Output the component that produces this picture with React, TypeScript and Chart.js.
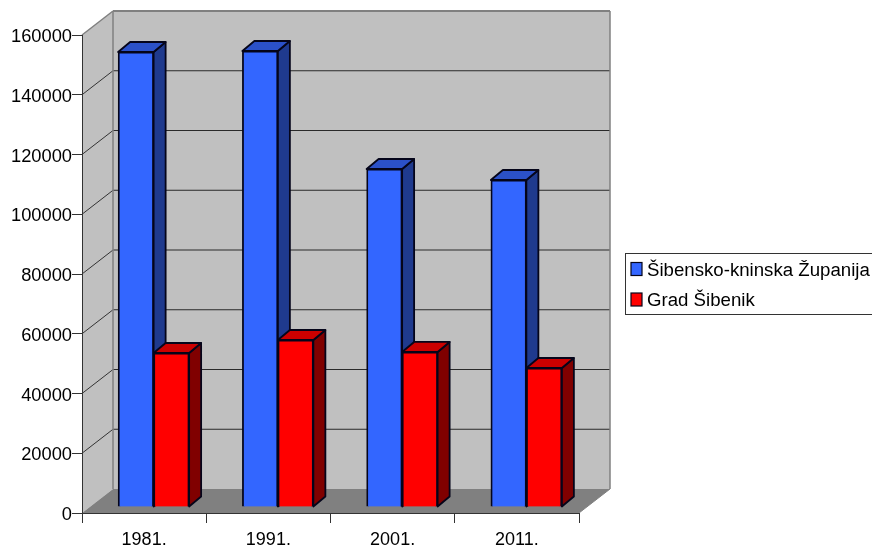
import React, { useEffect, useRef } from "react";
import { Chart, registerables } from "chart.js";

Chart.register(...registerables);

const categories = ["1981.", "1991.", "2001.", "2011."];
const countyLabel = "Šibensko-kninska Županija";
const cityLabel = "Grad Šibenik";
const countyValues = [152300, 152640, 113140, 109460];
const cityValues = [51550, 55900, 51900, 46530];
const yTicks = { min: 0, max: 160000, step: 20000 };

const FONT = "'Liberation Sans', Arial, sans-serif";
const DEPTH = { x: 31, y: -24 };
const BAR_SHIFT = { x: 9.5, y: -6 };
const BAR_DEPTH = { x: 12, y: -10 };
const STROKE = "#05051a";

const sides: { side: string; top: string }[] = [
  { side: "#1f3a8e", top: "#2b51c8" },
  { side: "#800000", top: "#cc0000" },
];

function poly(ctx: CanvasRenderingContext2D, pts: number[][], fill: string, stroke?: string, lw = 1) {
  ctx.beginPath();
  pts.forEach((p, i) => (i ? ctx.lineTo(p[0], p[1]) : ctx.moveTo(p[0], p[1])));
  ctx.closePath();
  ctx.fillStyle = fill;
  ctx.fill();
  if (stroke) {
    ctx.strokeStyle = stroke;
    ctx.lineWidth = lw;
    ctx.lineJoin = "round";
    ctx.stroke();
  }
}

function seg(ctx: CanvasRenderingContext2D, x1: number, y1: number, x2: number, y2: number, color: string, lw = 1) {
  ctx.beginPath();
  ctx.moveTo(x1, y1);
  ctx.lineTo(x2, y2);
  ctx.strokeStyle = color;
  ctx.lineWidth = lw;
  ctx.stroke();
}

const box3d = {
  id: "box3d",
  beforeDraw(chart: any) {
    const { ctx, chartArea: a, scales } = chart;
    const dx = DEPTH.x;
    const dy = DEPTH.y;
    ctx.save();
    poly(ctx, [[a.left, a.top], [a.left + dx, a.top + dy], [a.left + dx, a.bottom + dy], [a.left, a.bottom]], "#c0c0c0");
    poly(ctx, [[a.left + dx, a.top + dy], [a.right + dx, a.top + dy], [a.right + dx, a.bottom + dy], [a.left + dx, a.bottom + dy]], "#c0c0c0");
    poly(ctx, [[a.left, a.bottom], [a.left + dx, a.bottom + dy], [a.right + dx, a.bottom + dy], [a.right, a.bottom]], "#808080");
    scales.y.ticks.forEach((t: any) => {
      if (t.value === yTicks.min || t.value === yTicks.max) return;
      const y = scales.y.getPixelForValue(t.value);
      seg(ctx, a.left, y, a.left + dx, y + dy, "#333333");
      seg(ctx, a.left + dx, y + dy, a.right + dx, y + dy, "#2a2a2a");
    });
    seg(ctx, a.left, a.top, a.left + dx, a.top + dy, "#808080", 1.5);
    seg(ctx, a.left + dx, a.top + dy, a.right + dx, a.top + dy, "#808080", 2);
    seg(ctx, a.left + dx, a.top + dy, a.left + dx, a.bottom + dy, "#808080", 1.5);
    seg(ctx, a.right + dx, a.top + dy, a.right + dx, a.bottom + dy, "#808080", 1.5);
    seg(ctx, a.right, a.bottom, a.right + dx, a.bottom + dy, "#808080");
    ctx.restore();
  },
  beforeDatasetsDraw(chart: any) {
    const { ctx } = chart;
    ctx.save();
    ctx.translate(BAR_SHIFT.x, BAR_SHIFT.y);
    const bx = BAR_DEPTH.x;
    const by = BAR_DEPTH.y;
    chart.data.datasets.forEach((_: any, i: number) => {
      const col = sides[i];
      chart.getDatasetMeta(i).data.forEach((bar: any) => {
        const l = bar.x - bar.width / 2;
        const r = bar.x + bar.width / 2;
        const t = bar.y;
        const b = bar.base;
        poly(ctx, [[r, t], [r + bx, t + by], [r + bx, b + by], [r, b]], col.side, STROKE, 1.8);
        poly(ctx, [[l, t], [l + bx, t + by], [r + bx, t + by], [r, t]], col.top, STROKE, 1.8);
      });
    });
  },
  afterDatasetsDraw(chart: any) {
    chart.ctx.restore();
  },
  afterDraw(chart: any) {
    const { ctx } = chart;
    const x = 625;
    const y = 253;
    const w = 260;
    const h = 61;
    ctx.save();
    ctx.fillStyle = "#ffffff";
    ctx.fillRect(x, y, w, h);
    ctx.strokeStyle = "#333333";
    ctx.lineWidth = 1;
    ctx.strokeRect(x + 0.5, y + 0.5, w, h);
    ctx.font = `18.65px ${FONT}`;
    ctx.textBaseline = "alphabetic";
    chart.data.datasets.forEach((d: any, i: number) => {
      const top = y + 9.5 + i * 30.5;
      ctx.fillStyle = d.backgroundColor;
      ctx.fillRect(631, top, 11, 13);
      ctx.strokeStyle = STROKE;
      ctx.lineWidth = 1.2;
      ctx.strokeRect(631, top, 11, 13);
      ctx.fillStyle = "#000000";
      ctx.fillText(d.label, 647, top + 13);
    });
    ctx.restore();
  },
};

export default function App() {
  const ref = useRef<HTMLCanvasElement>(null);
  useEffect(() => {
    const chart = new Chart(ref.current as HTMLCanvasElement, {
      type: "bar",
      data: {
        labels: categories,
        datasets: [
          {
            label: countyLabel,
            data: countyValues,
            backgroundColor: "#3366ff",
            borderColor: STROKE,
            borderWidth: 1.8,
            barThickness: 35.5,
            clip: false,
          },
          {
            label: cityLabel,
            data: cityValues,
            backgroundColor: "#ff0000",
            borderColor: STROKE,
            borderWidth: 1.8,
            barThickness: 35.5,
            clip: false,
          },
        ],
      } as any,
      options: {
        responsive: false,
        animation: false,
        layout: { padding: { left: 0, top: 35, right: 293, bottom: 0 } },
        plugins: { legend: { display: false }, tooltip: { enabled: false } },
        scales: {
          x: {
            afterFit: (s: any) => {
              s.height = 33;
            },
            grid: { drawOnChartArea: false, tickLength: 10, color: "#333333" },
            border: { color: "#333333" },
            ticks: { font: { family: FONT, size: 18 }, color: "#000000", padding: 6, maxRotation: 0 },
          },
          y: {
            min: yTicks.min,
            max: yTicks.max,
            afterFit: (s: any) => {
              s.width = 82;
            },
            grid: { drawOnChartArea: false, tickLength: 10, color: "#333333" },
            border: { color: "#333333" },
            ticks: {
              stepSize: yTicks.step,
              font: { family: FONT, size: 18.3 },
              color: "#000000",
              padding: 0,
              labelOffset: 2,
              callback: (v: any) => String(v),
            },
          },
        },
      } as any,
      plugins: [box3d],
    });
    return () => chart.destroy();
  }, []);
  return (
    <canvas
      ref={ref}
      width={872}
      height={546}
      style={{ position: "fixed", left: 0, top: 0, display: "block", background: "#ffffff" }}
    />
  );
}
